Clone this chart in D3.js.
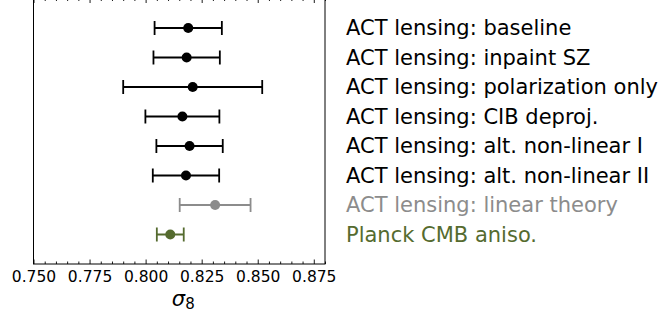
<!DOCTYPE html>
<html>
<head>
<meta charset="utf-8">
<script src="https://cdn.jsdelivr.net/npm/d3@7"></script>
<style>
  body { margin: 0; background: #fff; }
  svg { display: block; font-family: "DejaVu Sans", sans-serif; }
</style>
</head>
<body>
<div id="chart"></div>
<script>
const labels = [
    'ACT lensing: baseline',
    'ACT lensing: inpaint SZ',
    'ACT lensing: polarization only',
    'ACT lensing: CIB deproj.',
    'ACT lensing: alt. non-linear I',
    'ACT lensing: alt. non-linear II',
    'ACT lensing: linear theory',
    'Planck CMB aniso.'
];
const sigma8 = [0.819, 0.8183, 0.821, 0.8164, 0.8196, 0.818, 0.831, 0.811];
const sigma8Err = [0.015, 0.0148, 0.031, 0.0165, 0.0148, 0.0148, 0.0158, 0.006];
const groups = ['act', 'act', 'act', 'act', 'act', 'act', 'linear', 'planck'];
const xTicks = [0.750, 0.775, 0.800, 0.825, 0.850, 0.875];

const colors = { act: '#000000', linear: '#8c8c8c', planck: '#556b2f' };

const width = 663;
const height = 315;
const plotLeft = 33.5, plotRight = 325, plotTop = -1.5, plotBottom = 264;

const svg = d3.select('#chart').append('svg')
    .attr('width', width)
    .attr('height', height);

const x = d3.scaleLinear().domain([0.75, 0.88]).range([plotLeft, plotRight]);
const y = d3.scaleLinear().domain([-1, 8]).range([plotTop, plotBottom]);

const data = labels.map((label, i) => ({
    label: label,
    value: sigma8[i],
    err: sigma8Err[i],
    color: colors[groups[i]],
    row: i
}));

// minor ticks every 0.005
const minorTicks = d3.range(0, 27).map(i => +(0.75 + i * 0.005).toFixed(3))
    .filter(v => !xTicks.some(t => Math.abs(t - v) < 1e-9));

const bottomAxis = svg.append('g').attr('transform', `translate(0,${plotBottom})`);
bottomAxis.call(d3.axisBottom(x).tickValues(xTicks).tickFormat(d3.format('.3f')).tickSize(-4.5).tickPadding(7));
bottomAxis.append('g').call(d3.axisBottom(x).tickValues(minorTicks).tickFormat('').tickSize(-2.5));

const topAxis = svg.append('g').attr('transform', `translate(0,${plotTop})`);
topAxis.call(d3.axisTop(x).tickValues(xTicks).tickFormat('').tickSize(-4.5));
topAxis.append('g').call(d3.axisTop(x).tickValues(minorTicks).tickFormat('').tickSize(-2.5));

svg.selectAll('.domain').remove();
svg.selectAll('.tick line').attr('stroke', '#000').attr('stroke-width', 0.9);
bottomAxis.selectAll('text')
    .attr('font-size', '15.5px')
    .attr('font-family', '"DejaVu Sans", sans-serif')
    .attr('fill', '#000');

// frame
svg.append('rect')
    .attr('x', plotLeft)
    .attr('y', plotTop)
    .attr('width', plotRight - plotLeft)
    .attr('height', plotBottom - plotTop)
    .attr('fill', 'none')
    .attr('stroke', '#000')
    .attr('stroke-width', 1);

const rows = svg.append('g')
    .selectAll('g')
    .data(data)
    .enter()
    .append('g');

rows.append('line')
    .attr('x1', d => x(d.value - d.err))
    .attr('x2', d => x(d.value + d.err))
    .attr('y1', d => y(d.row))
    .attr('y2', d => y(d.row))
    .attr('stroke', d => d.color)
    .attr('stroke-width', 2);

rows.selectAll('line.cap')
    .data(d => [d.value - d.err, d.value + d.err].map(v => ({ v: v, d: d })))
    .enter()
    .append('line')
    .attr('class', 'cap')
    .attr('x1', c => x(c.v))
    .attr('x2', c => x(c.v))
    .attr('y1', c => y(c.d.row) - 7)
    .attr('y2', c => y(c.d.row) + 7)
    .attr('stroke', c => c.d.color)
    .attr('stroke-width', 1.8);

rows.append('circle')
    .attr('cx', d => x(d.value))
    .attr('cy', d => y(d.row))
    .attr('r', 5)
    .attr('fill', d => d.color);

rows.append('text')
    .text(d => d.label)
    .attr('x', plotRight + 21)
    .attr('y', d => y(d.row))
    .attr('dy', '0.35em')
    .attr('font-size', '21px')
    .attr('fill', d => d.color);

// x label: sigma_8
const xlabel = svg.append('text')
    .attr('x', (plotLeft + plotRight) / 2 + 4)
    .attr('y', 305.5)
    .attr('text-anchor', 'middle')
    .attr('fill', '#000');
xlabel.append('tspan')
    .attr('font-size', '21px')
    .attr('font-style', 'italic')
    .text('σ');
xlabel.append('tspan')
    .attr('font-size', '15px')
    .attr('dy', 3.3)
    .text('8');
</script>
</body>
</html>
